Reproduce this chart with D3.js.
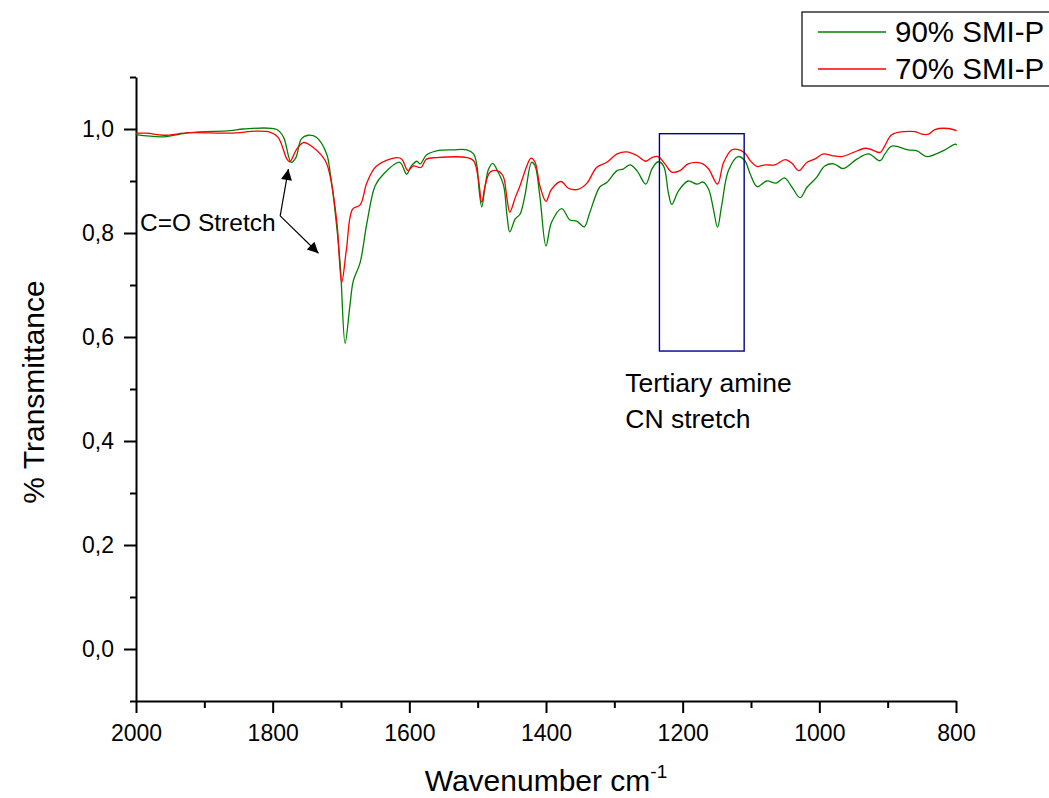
<!DOCTYPE html>
<html>
<head>
<meta charset="utf-8">
<script src="https://cdn.jsdelivr.net/npm/d3@7"></script>
<style>
  html, body { margin: 0; padding: 0; background: #fff; }
  svg { display: block; font-family: "Liberation Sans", Arial, sans-serif; }
</style>
</head>
<body>
<svg id="chart" width="1049" height="798"></svg>
<script>
// FTIR spectra: wavenumber (cm-1) and transmittance for each sample
const wn90 = [2000,1960,1921,1862,1843,1794,1784,1773,1766,1758,1748,1736,1721,1716,1709,1701,1694,1687,1682,1672,1662,1650,1638,1614,1604,1597,1589,1584,1575,1560,1536,1516,1506,1501,1498,1494,1489,1484,1478,1470,1462,1457,1453,1445,1438,1431,1421,1416,1409,1400,1392,1377,1365,1355,1344,1336,1321,1311,1296,1287,1277,1267,1254,1245,1236,1228,1221,1216,1206,1192,1179,1170,1162,1155,1149,1143,1133,1119,1109,1101,1091,1077,1063,1051,1040,1028,1018,1004,992,979,965,945,928,911,904,894,870,857,843,819,801,799];
const tr90 = [0.989,0.985,0.993,0.997,1.000,0.999,0.984,0.936,0.945,0.981,0.988,0.984,0.952,0.917,0.846,0.737,0.588,0.660,0.708,0.743,0.820,0.891,0.913,0.936,0.913,0.929,0.938,0.933,0.950,0.958,0.960,0.960,0.952,0.929,0.884,0.850,0.891,0.923,0.934,0.917,0.891,0.833,0.802,0.827,0.836,0.871,0.936,0.929,0.871,0.775,0.820,0.847,0.825,0.823,0.812,0.839,0.889,0.897,0.920,0.923,0.931,0.920,0.894,0.923,0.937,0.929,0.878,0.855,0.881,0.900,0.894,0.898,0.884,0.846,0.811,0.852,0.920,0.947,0.939,0.913,0.889,0.900,0.896,0.906,0.888,0.868,0.888,0.907,0.929,0.933,0.924,0.942,0.952,0.939,0.952,0.967,0.960,0.958,0.947,0.958,0.971,0.969];

const wn70 = [2000,1984,1960,1921,1862,1823,1804,1792,1779,1775,1765,1755,1741,1723,1716,1706,1699,1692,1683,1672,1662,1648,1618,1611,1602,1594,1583,1575,1560,1516,1506,1499,1494,1489,1482,1472,1463,1457,1453,1445,1438,1428,1422,1416,1409,1400,1392,1378,1367,1353,1340,1326,1311,1296,1282,1267,1254,1245,1236,1226,1216,1204,1192,1172,1162,1149,1140,1128,1120,1109,1101,1091,1079,1065,1050,1040,1030,1018,1007,994,982,967,950,933,923,911,904,894,860,850,840,831,811,799];
const tr70 = [0.992,0.992,0.988,0.993,0.992,0.996,0.994,0.984,0.942,0.937,0.961,0.974,0.965,0.939,0.910,0.820,0.705,0.769,0.846,0.854,0.897,0.929,0.945,0.942,0.920,0.929,0.926,0.942,0.945,0.945,0.939,0.904,0.859,0.891,0.917,0.920,0.910,0.865,0.840,0.868,0.891,0.929,0.944,0.936,0.891,0.861,0.884,0.899,0.886,0.884,0.896,0.926,0.936,0.952,0.956,0.949,0.938,0.945,0.947,0.933,0.917,0.920,0.933,0.934,0.923,0.894,0.936,0.960,0.961,0.954,0.939,0.928,0.931,0.931,0.941,0.934,0.920,0.936,0.942,0.952,0.949,0.947,0.955,0.963,0.960,0.955,0.968,0.989,0.995,0.990,0.990,0.999,1.001,0.997];

const seriesNames = ["90% SMI-P", "70% SMI-P"];
const seriesColors = ["#008000", "#ff0000"];

const xMajorTicks = [2000, 1800, 1600, 1400, 1200, 1000, 800];
const xMinorTicks = [1900, 1700, 1500, 1300, 1100, 900];
const yMajorTicks = [0.0, 0.2, 0.4, 0.6, 0.8, 1.0];
const yMinorTicks = [-0.1, 0.1, 0.3, 0.5, 0.7, 0.9, 1.1];

// Annotation: C=O stretch arrows (shared origin, two heads)
const coLabel = { text: "C=O Stretch", wn: 1994, t: 0.804 };
const coOrigin = { wn: 1789, t: 0.833 };
const coTargets = [ { wn: 1777, t: 0.923 }, { wn: 1733, t: 0.761 } ];

// Annotation: tertiary amine region
const amineBox = { wnFrom: 1234, wnTo: 1110, tLow: 0.573, tHigh: 0.991 };
const amineLines = ["Tertiary amine", "CN stretch"];
const amineLabelPos = { wn: 1284, t: [0.494, 0.425] };

const svg = d3.select("#chart");
const margin = { left: 136, right: 93, top: 77, bottom: 97 };
const W = 1049, H = 798;

const x = d3.scaleLinear().domain([2000, 800]).range([margin.left, W - margin.right]);
const y = d3.scaleLinear().domain([-0.1, 1.1]).range([H - margin.bottom, margin.top]);

const fmt = d => d.toFixed(1).replace(".", ",");

// Minor ticks first (no labels)
svg.append("g")
  .attr("transform", `translate(0,${y(-0.1)})`)
  .call(d3.axisBottom(x).tickValues(xMinorTicks).tickSize(7).tickFormat(""))
  .call(g => g.select(".domain").remove())
  .call(g => g.selectAll("line").attr("stroke", "#000").attr("stroke-width", 2));

svg.append("g")
  .attr("transform", `translate(${x(2000)},0)`)
  .call(d3.axisLeft(y).tickValues(yMinorTicks).tickSize(6).tickFormat(""))
  .call(g => g.select(".domain").remove())
  .call(g => g.selectAll("line").attr("stroke", "#000").attr("stroke-width", 2));

// Major axes
const xAxis = svg.append("g")
  .attr("transform", `translate(0,${y(-0.1)})`)
  .call(d3.axisBottom(x).tickValues(xMajorTicks).tickSize(12).tickSizeOuter(0).tickPadding(12).tickFormat(d3.format("d")));
xAxis.selectAll("text").attr("font-size", 23).attr("fill", "#000").attr("font-family", "Liberation Sans, Arial, sans-serif");
xAxis.selectAll("line").attr("stroke", "#000").attr("stroke-width", 2);
xAxis.select(".domain").attr("stroke", "#000").attr("stroke-width", 2);

const yAxis = svg.append("g")
  .attr("transform", `translate(${x(2000)},0)`)
  .call(d3.axisLeft(y).tickValues(yMajorTicks).tickSize(12).tickSizeOuter(0).tickPadding(10).tickFormat(fmt));
yAxis.selectAll("text").attr("font-size", 23).attr("fill", "#000").attr("font-family", "Liberation Sans, Arial, sans-serif");
yAxis.selectAll("line").attr("stroke", "#000").attr("stroke-width", 2);
yAxis.select(".domain").attr("stroke", "#000").attr("stroke-width", 2);

// Axis titles
const xTitle = svg.append("text")
  .attr("x", (x(2000) + x(800)) / 2)
  .attr("y", 791)
  .attr("text-anchor", "middle")
  .attr("font-size", 30);
xTitle.append("tspan").text("Wavenumber cm");
xTitle.append("tspan").attr("font-size", 19).attr("dy", -13).text("-1");

svg.append("text")
  .attr("transform", `translate(44,${(y(-0.1) + y(1.1)) / 2 + 3}) rotate(-90)`)
  .attr("text-anchor", "middle")
  .attr("font-size", 30)
  .text("% Transmittance");

// Spectra
const line = d3.line()
  .x(d => x(d[0]))
  .y(d => y(d[1]))
  .curve(d3.curveCatmullRom.alpha(0.5));

const series = [
  { name: seriesNames[0], color: seriesColors[0], pts: d3.zip(wn90, tr90) },
  { name: seriesNames[1], color: seriesColors[1], pts: d3.zip(wn70, tr70) }
];

svg.append("g").selectAll("path")
  .data(series)
  .join("path")
  .attr("fill", "none")
  .attr("stroke", d => d.color)
  .attr("stroke-width", 1.3)
  .attr("stroke-linejoin", "round")
  .attr("d", d => line(d.pts));

// Amine region box
svg.append("rect")
  .attr("x", x(amineBox.wnFrom))
  .attr("y", y(amineBox.tHigh))
  .attr("width", x(amineBox.wnTo) - x(amineBox.wnFrom))
  .attr("height", y(amineBox.tLow) - y(amineBox.tHigh))
  .attr("fill", "none")
  .attr("stroke", "#00008b")
  .attr("stroke-width", 1.4);

svg.append("g").selectAll("text")
  .data(amineLines)
  .join("text")
  .attr("x", x(amineLabelPos.wn))
  .attr("y", (d, i) => y(amineLabelPos.t[i]))
  .attr("font-size", 26.5)
  .text(d => d);

// C=O stretch label and arrows
svg.append("text")
  .attr("x", x(coLabel.wn))
  .attr("y", y(coLabel.t))
  .attr("font-size", 24.5)
  .text(coLabel.text);

svg.append("defs").append("marker")
  .attr("id", "arrowhead")
  .attr("viewBox", "0 0 10 10")
  .attr("refX", 10).attr("refY", 5)
  .attr("markerWidth", 19).attr("markerHeight", 11)
  .attr("markerUnits", "userSpaceOnUse")
  .attr("orient", "auto")
  .append("path")
  .attr("d", "M0,0 L10,5 L0,10 Z")
  .attr("fill", "#000");

svg.append("g").selectAll("line")
  .data(coTargets)
  .join("line")
  .attr("x1", x(coOrigin.wn)).attr("y1", y(coOrigin.t))
  .attr("x2", d => x(d.wn)).attr("y2", d => y(d.t))
  .attr("stroke", "#000")
  .attr("stroke-width", 1.2)
  .attr("marker-end", "url(#arrowhead)");

// Legend
const legend = svg.append("g").attr("transform", "translate(802,12)");
legend.append("rect")
  .attr("x", 0).attr("y", 0)
  .attr("width", 260).attr("height", 74)
  .attr("fill", "#fff")
  .attr("stroke", "#000")
  .attr("stroke-width", 1.2);
const items = legend.selectAll("g.item")
  .data(series)
  .join("g")
  .attr("class", "item")
  .attr("transform", (d, i) => `translate(0,${20 + i * 37})`);
items.append("line")
  .attr("x1", 16).attr("x2", 84)
  .attr("y1", 0).attr("y2", 0)
  .attr("stroke", d => d.color)
  .attr("stroke-width", 1.4);
items.append("text")
  .attr("x", 93)
  .attr("y", 10)
  .attr("font-size", 29.5)
  .text(d => d.name);
</script>
</body>
</html>
